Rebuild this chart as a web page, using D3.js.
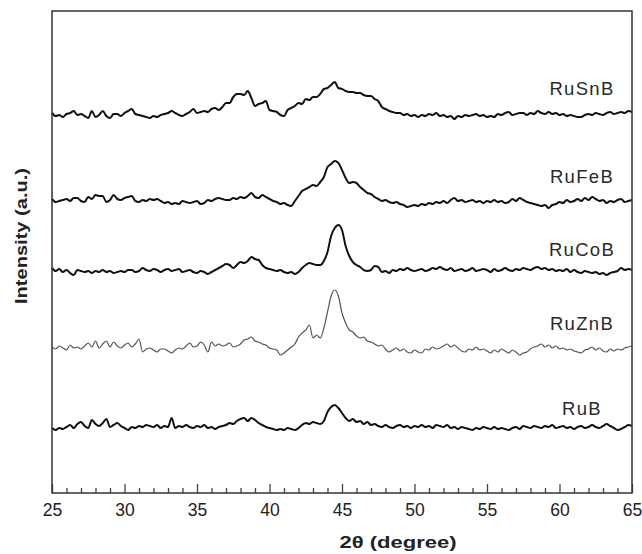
<!DOCTYPE html>
<html>

<head>
    <meta charset="utf-8">
    <script src="https://d3js.org/d3.v7.min.js"></script>
    <style>
        body { margin: 0; background: #fff; }
        svg { display: block; font-family: "Liberation Sans", Arial, sans-serif; }
        .axis text { fill: #222; font-size: 17.5px; }
        .axis line { stroke: #444; stroke-width: 1.3; }
    </style>
</head>

<body>
    <svg id="xrd" width="642" height="554"></svg>
    <script>
        // 2theta grid, 0.25 degree step
        const twoTheta = d3.range(25, 65.001, 0.25);
        const xTicks = [25, 30, 35, 40, 45, 50, 55, 60, 65];

        // bottom to top
        const names = ["RuB", "RuZnB", "RuCoB", "RuFeB", "RuSnB"];
        const offsets = [56, 135, 213, 282, 368];

        const ruB = [
            9, 7, 9, 8, 10, 12, 9, 13,
            15, 11, 9, 17, 13, 11, 14, 18,
            10, 12, 14, 11, 9, 7, 10, 9,
            11, 10, 12, 11, 10, 12, 9, 11,
            10, 19, 9, 11, 10, 12, 10, 9,
            11, 10, 12, 9, 10, 8, 10, 11,
            12, 14, 13, 16, 18, 19, 16, 19,
            17, 14, 12, 10, 9, 8, 7, 8,
            7, 9, 8, 7, 9, 12, 14, 13,
            15, 14, 13, 16, 25, 30, 32, 29,
            24, 19, 16, 18, 15, 16, 13, 15,
            12, 13, 11, 10, 12, 10, 9, 11,
            12, 10, 11, 9, 11, 10, 12, 10,
            11, 9, 12, 11, 10, 12, 9, 10,
            8, 10, 9, 8, 7, 9, 8, 10,
            9, 8, 10, 8, 9, 8, 7, 9,
            10, 8, 11, 10, 9, 11, 10, 9,
            11, 10, 12, 9, 10, 11, 9, 10,
            8, 10, 11, 9, 10, 12, 10, 9,
            11, 13, 11, 9, 7, 8, 10, 12,
            11];

        const ruZnB = [
            11, 9, 12, 10, 8, 13, 10, 11,
            9, 12, 15, 11, 17, 10, 14, 17,
            11, 16, 12, 10, 13, 15, 11, 14,
            19, 6, 9, 10, 8, 6, 9, 9,
            7, 5, 8, 10, 9, 12, 15, 11,
            12, 16, 13, 6, 16, 12, 14, 12,
            13, 15, 11, 12, 14, 18, 19, 21,
            17, 16, 14, 13, 10, 9, 8, 3,
            5, 8, 11, 14, 21, 25, 28, 33,
            20, 23, 20, 30, 46, 62, 68, 62,
            45, 35, 28, 26, 22, 20, 21, 17,
            16, 14, 12, 13, 9, 6, 8, 10,
            7, 9, 6, 5, 8, 6, 5, 9,
            8, 11, 9, 10, 12, 14, 11, 13,
            10, 7, 6, 9, 8, 11, 8, 9,
            7, 5, 8, 6, 9, 7, 5, 8,
            6, 3, 5, 6, 9, 11, 12, 14,
            11, 13, 10, 12, 9, 10, 8, 9,
            7, 6, 5, 8, 9, 11, 8, 10,
            7, 6, 9, 7, 9, 8, 10, 11,
            12];

        const ruCoB = [
            12, 9, 11, 8, 10, 7, 5, 10,
            9, 8, 9, 7, 9, 8, 10, 8,
            9, 7, 8, 9, 8, 10, 10, 8,
            9, 12, 10, 9, 11, 10, 8, 10,
            11, 9, 10, 11, 8, 9, 10, 8,
            7, 9, 8, 6, 8, 10, 12, 14,
            16, 15, 12, 15, 18, 17, 19, 23,
            21, 20, 15, 12, 11, 10, 9, 10,
            8, 7, 8, 6, 8, 12, 15, 17,
            16, 15, 15, 19, 28, 44, 52, 55,
            50, 34, 24, 18, 15, 13, 10, 9,
            10, 14, 13, 8, 9, 7, 10, 9,
            11, 10, 12, 10, 9, 10, 11, 9,
            10, 12, 11, 13, 11, 10, 12, 9,
            10, 11, 9, 10, 12, 9, 10, 11,
            10, 8, 11, 9, 10, 12, 10, 9,
            11, 10, 12, 11, 10, 12, 13, 11,
            12, 10, 11, 9, 10, 9, 11, 8,
            10, 8, 7, 9, 8, 7, 8, 6,
            7, 5, 7, 8, 9, 12, 10, 11,
            10];

        const ruFeB = [
            12, 9, 10, 11, 12, 10, 13, 13,
            10, 9, 14, 12, 16, 15, 15, 9,
            11, 16, 12, 11, 13, 14, 15, 10,
            9, 11, 10, 12, 11, 12, 10, 8,
            9, 7, 8, 7, 10, 9, 8, 9,
            10, 7, 8, 11, 10, 12, 13, 12,
            11, 11, 13, 12, 14, 13, 15, 18,
            14, 13, 16, 14, 12, 10, 9, 7,
            8, 6, 5, 10, 15, 20, 22, 24,
            26, 25, 29, 34, 44, 47, 50, 48,
            41, 33, 28, 29, 28, 24, 21, 18,
            17, 14, 12, 10, 11, 9, 8, 9,
            7, 6, 4, 5, 6, 5, 7, 6,
            8, 7, 9, 8, 10, 8, 11, 13,
            10, 11, 9, 10, 11, 9, 10, 8,
            10, 9, 11, 9, 10, 8, 9, 12,
            10, 13, 11, 9, 8, 7, 6, 5,
            6, 3, 6, 7, 9, 8, 11, 9,
            10, 12, 10, 13, 11, 14, 12, 10,
            11, 8, 10, 9, 11, 12, 9, 10,
            11];

        const ruSnB = [
            12, 9, 10, 8, 11, 12, 14, 10,
            11, 9, 7, 14, 8, 10, 14, 9,
            7, 11, 11, 9, 12, 14, 16, 11,
            10, 9, 8, 7, 9, 8, 10, 11,
            12, 14, 12, 10, 9, 11, 13, 16,
            12, 13, 14, 13, 16, 17, 15, 18,
            22, 22, 28, 31, 31, 30, 34, 27,
            19, 21, 22, 24, 15, 14, 13, 10,
            9, 15, 17, 19, 22, 21, 26, 25,
            28, 28, 31, 36, 37, 40, 43, 37,
            36, 34, 33, 33, 32, 32, 30, 29,
            29, 26, 24, 18, 16, 14, 13, 12,
            12, 10, 11, 9, 10, 8, 10, 9,
            11, 10, 12, 9, 10, 8, 9, 6,
            9, 8, 10, 9, 10, 11, 9, 10,
            8, 9, 8, 11, 10, 12, 13, 10,
            11, 12, 12, 10, 12, 11, 14, 12,
            11, 13, 11, 12, 10, 11, 9, 10,
            9, 8, 8, 10, 11, 10, 12, 11,
            10, 12, 13, 11, 12, 13, 12, 14,
            13];

        const series = [ruB, ruZnB, ruCoB, ruFeB, ruSnB];

        // styling / layout
        const lineColor = ["#111", "#555", "#111", "#111", "#111"];
        const lineWidth = [2, 1.2, 2, 2, 2];
        const labelRise = [12, 18, 14, 18, 20];

        const svg = d3.select("#xrd");
        const plotL = 52, plotR = 632, plotT = 11, plotB = 493;

        const x = d3.scaleLinear().domain([25, 65]).range([plotL, plotR]);
        const y = d3.scaleLinear().domain([0, plotB - plotT]).range([plotB, plotT]);

        const line = d3.line()
            .curve(d3.curveMonotoneX)
            .x(d => x(d[0]))
            .y(d => y(d[1]));

        series.forEach((vals, k) => {
            const pts = vals.map((v, i) => [twoTheta[i], v + offsets[k]]);
            svg.append("path")
                .datum(pts)
                .attr("fill", "none")
                .attr("stroke", lineColor[k])
                .attr("stroke-width", lineWidth[k])
                .attr("stroke-linejoin", "round")
                .attr("d", line);

            svg.append("text")
                .attr("x", 582)
                .attr("y", y(offsets[k] + 10) - labelRise[k])
                .attr("text-anchor", "middle")
                .style("font-size", "18.5px")
                .style("letter-spacing", "1.3px")
                .style("fill", "#2a2a2a")
                .text(names[k]);
        });

        // minor ticks
        svg.append("g")
            .attr("class", "axis")
            .attr("transform", "translate(0," + plotB + ")")
            .call(d3.axisBottom(x)
                .tickValues(d3.range(25, 66, 1).filter(v => v % 5 !== 0))
                .tickSize(-5)
                .tickFormat(""))
            .call(g => g.select(".domain").remove());

        // major ticks
        svg.append("g")
            .attr("class", "axis")
            .attr("transform", "translate(0," + plotB + ")")
            .call(d3.axisBottom(x)
                .tickValues(xTicks)
                .tickSize(-9)
                .tickPadding(11)
                .tickFormat(d3.format("d")))
            .call(g => g.select(".domain").remove());

        // frame
        svg.append("rect")
            .attr("x", plotL)
            .attr("y", plotT)
            .attr("width", plotR - plotL)
            .attr("height", plotB - plotT)
            .attr("fill", "none")
            .attr("stroke", "#333")
            .attr("stroke-width", 1.5);

        // axis titles
        svg.append("text")
            .attr("x", 398)
            .attr("y", 548)
            .attr("text-anchor", "middle")
            .attr("textLength", 117)
            .attr("lengthAdjust", "spacingAndGlyphs")
            .style("font-size", "17px")
            .style("font-weight", "bold")
            .style("fill", "#222")
            .text("2θ (degree)");

        svg.append("text")
            .attr("transform", "translate(27,236) rotate(-90)")
            .attr("text-anchor", "middle")
            .attr("textLength", 136)
            .attr("lengthAdjust", "spacingAndGlyphs")
            .style("font-size", "17px")
            .style("font-weight", "bold")
            .style("fill", "#222")
            .text("Intensity (a.u.)");
    </script>
</body>

</html>
